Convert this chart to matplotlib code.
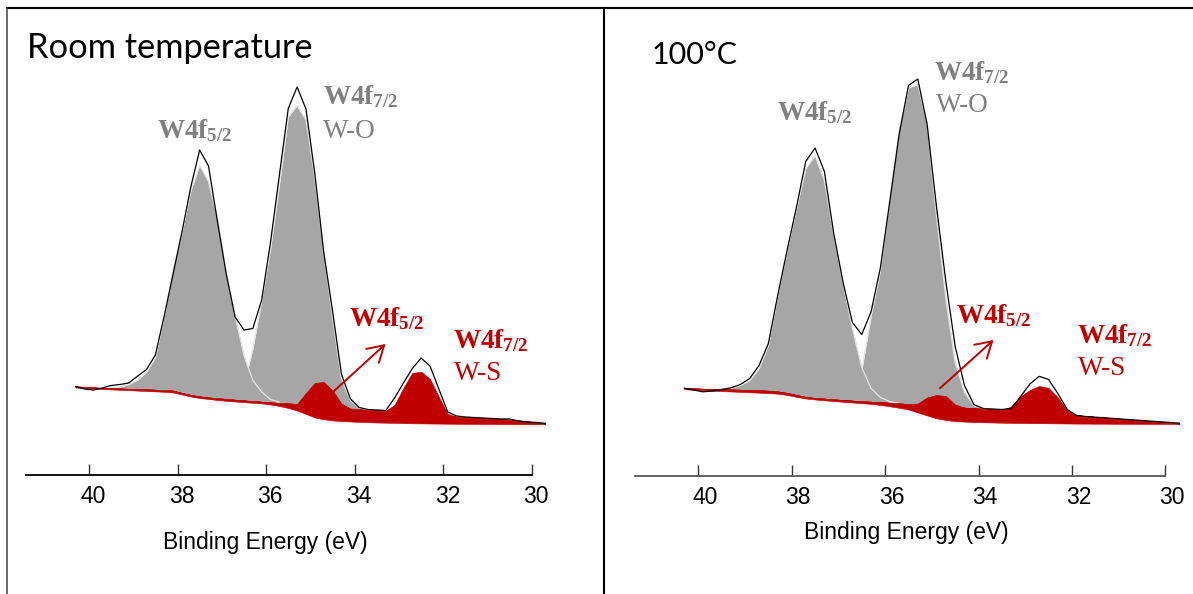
import matplotlib
matplotlib.use('Agg')
import matplotlib.pyplot as plt
import numpy as np
from matplotlib import transforms
from matplotlib.lines import Line2D

# ---------------- data (binding energy grid, intensities in a.u.) ----------------
energy = [40.3, 40.1, 39.9, 39.7, 39.5, 39.3, 39.1, 38.9, 38.7, 38.5, 38.3, 38.1,
          37.9, 37.7, 37.5, 37.3, 37.1, 36.9, 36.7, 36.5, 36.3, 36.1, 35.9, 35.7,
          35.5, 35.3, 35.1, 34.9, 34.7, 34.5, 34.3, 34.1, 33.9, 33.7, 33.5, 33.3,
          33.1, 32.9, 32.7, 32.5, 32.3, 32.1, 31.9, 31.7, 31.5, 31.3, 31.1, 30.9,
          30.7, 30.5, 30.3, 30.1, 29.9, 29.7]

# Room temperature
rt_raw = [88.3, 86, 85, 87, 89.5, 90.5, 92, 99, 105.5, 120, 159, 201, 243, 288, 325,
          309, 254, 201, 158, 145, 146.5, 175, 233, 300, 366.5, 388, 366, 301.4, 223,
          164, 101, 76.5, 67.5, 65.5, 65, 64.5, 77, 92, 106.5, 117, 109, 86, 63, 59,
          58, 57.5, 57, 56.5, 56, 56, 54, 53, 52.5, 51.7]
rt_bg_hi = [88.5, 88, 87.5, 87, 86.7, 86.4, 86.1, 85.8, 85.5, 85.2, 84.8, 84.3, 82, 80,
            78.5, 77.5, 76.7, 76, 75.2, 74.5, 73.8, 73.2, 72.5, 72, 71.5, 71, 70.2,
            69.4, 68.6, 67.6, 66.8, 66, 65.5, 65, 64.6, 64.2, 63.5, 62.7, 62, 61.2,
            60.4, 59.6, 58.8, 58.2, 57.7, 57.2, 56.7, 56.2, 55.7, 55.2, 54.5, 53.5,
            52.7, 51.4]
rt_bg_lo = [87.5, 87, 86.5, 86, 85.6, 85.2, 84.8, 84.4, 84, 83.6, 83.2, 82.5, 80.5,
            78.5, 77, 76, 75, 74.2, 73.5, 72.8, 72.2, 71.6, 70.5, 69, 67, 64.5, 61,
            57.5, 55.7, 54.5, 54, 53.5, 53.1, 52.8, 52.5, 52.3, 52.1, 51.9, 51.7,
            51.6, 51.5, 51.4, 51.3, 51.2, 51.1, 51.1, 51.0, 51.0, 50.9, 50.9, 50.8,
            50.8, 50.7, 50.9]
rt_wo52 = [0, 0, 0, 0, 0.5, 1.6, 4.4, 9.2, 17.5, 32, 74, 121, 160, 204, 231, 216, 181,
           126, 84, 45, 21, 10, 3, 1, 0, 0, 0, 0, 0, 0, 0, 0, 0, 0, 0, 0, 0, 0, 0, 0,
           0, 0, 0, 0, 0, 0, 0, 0, 0, 0, 0, 0, 0, 0]
rt_wo72 = [0, 0, 0, 0, 0, 0, 0, 0, 0, 0, 0, 0, 0, 0, 0, 0, 0, 0.5, 3.8, 15.5, 52, 101,
           153.5, 218, 286.5, 298.5, 284.8, 227.6, 154.4, 90.4, 29.2, 9, 1.5, 0.3, 0,
           0, 0, 0, 0, 0, 0, 0, 0, 0, 0, 0, 0, 0, 0, 0, 0, 0, 0, 0]
rt_ws52 = [0, 0, 0, 0, 0, 0, 0, 0, 0, 0, 0, 0, 0, 0, 0, 0, 0, 0, 0, 0, 0, 0, 0, 0, 0,
           0, 11.8, 22.6, 24.4, 16.9, 4.7, 0.5, 0, 0, 0, 0, 0, 0, 0, 0, 0, 0, 0, 0, 0,
           0, 0, 0, 0, 0, 0, 0, 0, 0]
rt_ws72 = [0, 0, 0, 0, 0, 0, 0, 0, 0, 0, 0, 0, 0, 0, 0, 0, 0, 0, 0, 0, 0, 0, 0, 0, 0,
           0, 0, 0, 0, 0, 0, 0, 0, 0, 0, 0, 6.5, 24.3, 40, 42.1, 35.6, 18.4, 2.2, 0, 0,
           0, 0, 0, 0, 0, 0, 0, 0, 0]

# 100 °C
hot_raw = [87.3, 85.5, 83.7, 84.5, 86, 87.7, 91, 97, 110, 132, 180, 225, 268, 314,
           327.5, 304, 242, 193, 153, 141, 164, 208, 274, 341, 390, 396.5, 351, 269,
           194, 129, 90, 71, 67, 66.5, 66, 67, 79, 91.5, 99.2, 96, 82, 66, 60, 59,
           58.3, 57.7, 57, 56.3, 55.7, 55, 54.3, 53.7, 53, 52.3]
hot_bg_hi = [87.3, 87, 86.7, 86.4, 86.1, 85.9, 85.7, 85.4, 85.1, 84.7, 84, 82.5, 80.5,
             78.5, 77.5, 76.8, 76.1, 75.4, 74.8, 74.2, 73.7, 73.2, 72.6, 72, 71.4,
             70.8, 70.2, 69.6, 69, 68.4, 67.8, 67.2, 66.6, 66, 65.4, 64.8, 64.2, 63.6,
             63, 62.4, 61.8, 61, 60.1, 59.3, 58.6, 57.9, 57.2, 56.5, 55.8, 55.1, 54.4,
             53.7, 53, 52.0]
hot_bg_lo = [86.3, 85.8, 85.3, 84.8, 84.4, 84, 83.6, 83.2, 82.8, 82.4, 81.8, 80.5, 78.7,
             77, 76, 75.2, 74.4, 73.7, 73, 72.3, 71.6, 70.5, 69.2, 67.7, 66, 63, 60,
             57.2, 55.5, 54.4, 53.9, 53.5, 53.2, 53, 52.8, 52.6, 52.5, 52.4, 52.3,
             52.2, 52.1, 52, 51.9, 51.9, 51.8, 51.8, 51.7, 51.7, 51.7, 51.6, 51.6,
             51.6, 51.6, 51.6]
hot_wo52 = [0, 0, 0, 0, 0.4, 1.6, 4.3, 9.6, 21.9, 45.3, 95, 142.5, 185.5, 228.5, 242.5,
            218.2, 164.9, 116.6, 72.2, 33.8, 13.3, 4.8, 1.4, 0.3, 0, 0, 0, 0, 0, 0, 0,
            0, 0, 0, 0, 0, 0, 0, 0, 0, 0, 0, 0, 0, 0, 0, 0, 0, 0, 0, 0, 0, 0, 0]
hot_wo72 = [0, 0, 0, 0, 0, 0, 0, 0, 0, 0, 0, 0, 0, 0, 0, 0, 0, 1.6, 8.2, 30.8, 85.8,
            131.8, 204.4, 273, 316.1, 320.2, 281.8, 190.4, 108, 44.6, 15.2, 2.8, 0.5,
            0, 0, 0, 0, 0, 0, 0, 0, 0, 0, 0, 0, 0, 0, 0, 0, 0, 0, 0, 0, 0]
hot_ws52 = [0, 0, 0, 0, 0, 0, 0, 0, 0, 0, 0, 0, 0, 0, 0, 0, 0, 0, 0, 0, 0, 0, 0, 0, 0,
            1.2, 7.8, 10.9, 10.5, 2.6, 0, 0, 0, 0, 0, 0, 0, 0, 0, 0, 0, 0, 0, 0, 0, 0,
            0, 0, 0, 0, 0, 0, 0, 0]
hot_ws72 = [0, 0, 0, 0, 0, 0, 0, 0, 0, 0, 0, 0, 0, 0, 0, 0, 0, 0, 0, 0, 0, 0, 0, 0, 0,
            0, 0, 0, 0, 0, 0, 0, 0, 0, 0, 4.2, 14.8, 21.9, 26.5, 25.1, 16.2, 4, 0.5, 0,
            0, 0, 0, 0, 0, 0, 0, 0, 0, 0]

tick_values = [40, 38, 36, 34, 32, 30]
tick_labels = ['40', '38', '36', '34', '32', '30']
panel_titles = ['Room temperature', '100°C']
xlabel_text = 'Binding Energy (eV)'

# ---------------- style ----------------
RED = '#C00000'
GRAY = '#A6A6A6'
LGRAY = '#E4E4E4'
LABGRAY = '#808080'

plt.rcParams['mathtext.fontset'] = 'custom'
plt.rcParams['mathtext.rm'] = 'Liberation Serif'
plt.rcParams['mathtext.bf'] = 'Liberation Serif:bold'
plt.rcParams['font.family'] = ['Liberation Sans', 'DejaVu Sans']

W, H = 1193, 594
fig = plt.figure(figsize=(W / 100, H / 100), dpi=100)


def fx(x):
    return x / W


def fy(y):
    return 1 - y / H


def draw_panel(ax, raw, bg_hi, bg_lo, wo52, wo72, ws52, ws72, xlim, bound_left,
               label_shift_px, spine_color):
    e = np.array(energy)
    hi = np.array(bg_hi)
    lo = np.array(bg_lo)
    # background band
    ax.fill_between(e, lo, hi, color=RED, lw=0.4, edgecolor=RED, zorder=2)
    # W-O components (gray)
    for comp, z in ((wo72, 3), (wo52, 4)):
        c = np.array(comp)
        ax.fill_between(e, hi, hi + c, color=GRAY, lw=0, zorder=z)
        m = c > 0.2
        idx = np.where(m)[0]
        ax.plot(e[idx], (hi + c)[idx], color=LGRAY, lw=0.9, zorder=z + 0.1)
    # W-S components (red)
    for comp in (ws52, ws72):
        c = np.array(comp)
        ax.fill_between(e, hi, hi + c, color=RED, lw=0.5, edgecolor=RED, zorder=6)
    # raw envelope
    ax.plot(e, raw, color='black', lw=0.9, zorder=7)

    ax.set_xlim(*xlim)
    ax.set_ylim(0, 465)
    for s in ('left', 'right', 'top'):
        ax.spines[s].set_visible(False)
    ax.spines['bottom'].set_bounds(30, bound_left)
    ax.spines['bottom'].set_color(spine_color)
    ax.spines['bottom'].set_linewidth(1.3)
    ax.set_yticks([])
    ax.set_xticks(tick_values)
    ax.set_xticklabels(tick_labels)
    ax.tick_params(axis='x', direction='in', length=8, width=1.0, color='#333333',
                   labelsize=16.5, pad=7.5)
    offset = transforms.ScaledTranslation(label_shift_px / 100, 0, fig.dpi_scale_trans)
    for lab in ax.get_xticklabels():
        lab.set_transform(lab.get_transform() + offset)
    ax.patch.set_alpha(0)


ax1 = fig.add_axes([fx(26), fy(475), fx((41.42 - 29.6) * 44.3), 465 / H])
draw_panel(ax1, rt_raw, rt_bg_hi, rt_bg_lo, rt_wo52, rt_wo72, rt_ws52, rt_ws72,
           (41.42, 29.6), 41.42, 4, 'black')

ax2 = fig.add_axes([fx(634.8), fy(475.5), fx((41.36 - 29.6) * 46.7), 465 / H])
draw_panel(ax2, hot_raw, hot_bg_hi, hot_bg_lo, hot_wo52, hot_wo72, hot_ws52, hot_ws72,
           (41.36, 29.6), 41.36, 6.5, '#555555')

renderer = fig.canvas.get_renderer()


def fit_text(x, y, s, target_w, **kw):
    t = fig.text(fx(x), fy(y), s, **kw)
    w = t.get_window_extent(renderer).width
    t.set_fontsize(t.get_fontsize() * target_w / w)
    return t


# panel titles
fit_text(27, 57.5, panel_titles[0], 285, fontsize=22, family=['Lato', 'DejaVu Sans'],
         ha='left', va='baseline', color='black')
fit_text(651.8, 64.5, panel_titles[1], 86, fontsize=22, family=['Lato', 'DejaVu Sans'],
         ha='left', va='baseline', color='black')

# x labels
fig.text(fx(265), fy(548.5), xlabel_text, fontsize=16.5, ha='center', va='baseline')
fig.text(fx(906), fy(539.5), xlabel_text, fontsize=16.5, ha='center', va='baseline')

# peak labels
FS = 19.5
lab52 = r'$\mathbf{W4f_{5/2}}$'
lab72 = r'$\mathbf{W4f_{7/2}}$'


def label(x, y, s, color, serif=False):
    kw = dict(fontsize=FS, ha='left', va='baseline', color=color)
    if serif:
        kw['family'] = 'Liberation Serif'
    fig.text(fx(x), fy(y), s, **kw)


# left panel
label(157, 138, lab52, LABGRAY)
label(323, 104, lab72, LABGRAY)
label(323, 137.5, 'W-O', LABGRAY, serif=True)
label(349, 326, lab52, RED)
label(453, 348, lab72, RED)
label(454, 380, 'W-S', RED, serif=True)
# right panel
label(777, 120, lab52, LABGRAY)
label(934, 80, lab72, LABGRAY)
label(936, 111.5, 'W-O', LABGRAY, serif=True)
label(956, 323.5, lab52, RED)
label(1077, 343, lab72, RED)
label(1078, 375, 'W-S', RED, serif=True)

# arrows
for (x0, y0, x1, y1) in ((333.3, 391.7, 385.5, 344), (940, 388.3, 993.5, 340)):
    fig.add_artist(matplotlib.patches.FancyArrowPatch(
        (fx(x0), fy(y0)), (fx(x1), fy(y1)), transform=fig.transFigure,
        arrowstyle='->,head_length=0.75,head_width=0.45', mutation_scale=15,
        color=RED, lw=1.4, shrinkA=0, shrinkB=0, zorder=10))

# frame lines
fig.add_artist(Line2D([fx(7), fx(1193)], [fy(8.3), fy(8.3)], transform=fig.transFigure,
                      color='black', lw=1.5))
fig.add_artist(Line2D([fx(7.2), fx(7.2)], [fy(8.3), fy(594)], transform=fig.transFigure,
                      color='#404040', lw=1.1))
fig.add_artist(Line2D([fx(604), fx(604)], [fy(8.3), fy(594)], transform=fig.transFigure,
                      color='black', lw=1.5))

fig.savefig('out.png', dpi=100)
